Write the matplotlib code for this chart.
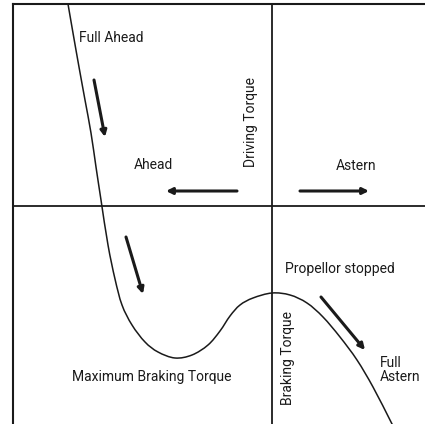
import matplotlib
matplotlib.use("Agg")
import matplotlib.pyplot as plt
import numpy as np
from matplotlib.patches import PathPatch
from matplotlib.path import Path

# Curva par-velocidad de la hélice (unidades arbitrarias, origen en el cruce)
curva_x = [-204, -199, -193, -187, -181, -176, -171, -164, -157, -150, -140,
           -127, -114, -97, -80, -64, -52, -42, -32, -19, 0, 18, 35, 51, 68,
           85, 101, 118, 121]
curva_y = [202, 173, 139, 106, 73, 39, 6, -39, -73, -99, -119,
           -136, -146, -152, -149, -139, -125, -110, -99, -92, -87, -89, -97,
           -111, -131, -154, -181, -214, -220]

# Flechas: (x_inicio, y_inicio, x_fin, y_fin)
flechas = [
    (-178, 126, -167, 69),
    (-35, 15, -106, 15),
    (28, 15, 97, 15),
    (-146, -31, -129, -88),
    (49, -91, 93, -144),
]

# Etiquetas: (texto, x, y, alineacion, rotacion)
etiquetas = [
    ("Full Ahead", -193, 168, "left", 0),
    ("Ahead", -119, 41, "center", 0),
    ("Driving Torque", -21, 84, "center", 90),
    ("Astern", 84, 40, "center", 0),
    ("Maximum Braking Torque", -200, -171, "left", 0),
    ("Propellor stopped", 13, -63, "left", 0),
    ("Braking Torque", 16, -152, "center", 90),
    ("Full\nAstern", 108, -164, "left", 0),
]

color = "#1a1a1a"


def trazo_suave(xs, ys):
    # curva Bézier que pasa por los puntos leídos (Catmull-Rom)
    p = np.column_stack([xs, ys]).astype(float)
    p_ext = np.vstack([p[0], p, p[-1]])
    vertices = [p[0]]
    codigos = [Path.MOVETO]
    for i in range(1, len(p_ext) - 2):
        c1 = p_ext[i] + (p_ext[i + 1] - p_ext[i - 1]) / 6
        c2 = p_ext[i + 1] - (p_ext[i + 2] - p_ext[i]) / 6
        vertices += [c1, c2, p_ext[i + 1]]
        codigos += [Path.CURVE4] * 3
    return Path(vertices, codigos)


fig = plt.figure(figsize=(4.25, 4.24), dpi=100)
ax = fig.add_axes([13 / 425, 0, 1 - 13 / 425, 420 / 424])
ax.set_xlim(-259, 153)
ax.set_ylim(-218, 202)

for lado in ["right", "bottom"]:
    ax.spines[lado].set_visible(False)
for lado in ["left", "top"]:
    ax.spines[lado].set_linewidth(1.5)
    ax.spines[lado].set_color(color)
ax.set_xticks([])
ax.set_yticks([])

ax.axvline(0, color=color, lw=1.3)
ax.axhline(0, color=color, lw=1.3)

ax.add_patch(PathPatch(trazo_suave(curva_x, curva_y), fill=False,
                       edgecolor=color, lw=1.1))

for x0, y0, x1, y1 in flechas:
    ax.annotate(
        "",
        xy=(x1, y1),
        xytext=(x0, y0),
        arrowprops=dict(arrowstyle="-|>", lw=2.2, color=color,
                        mutation_scale=9, shrinkA=0, shrinkB=0),
    )

for texto, x, y, ha, rot in etiquetas:
    ax.text(x, y, texto, ha=ha, va="center", rotation=rot,
            fontsize=10, family="Roboto", color=color, linespacing=1.05)

fig.savefig("out.png", dpi=100)
